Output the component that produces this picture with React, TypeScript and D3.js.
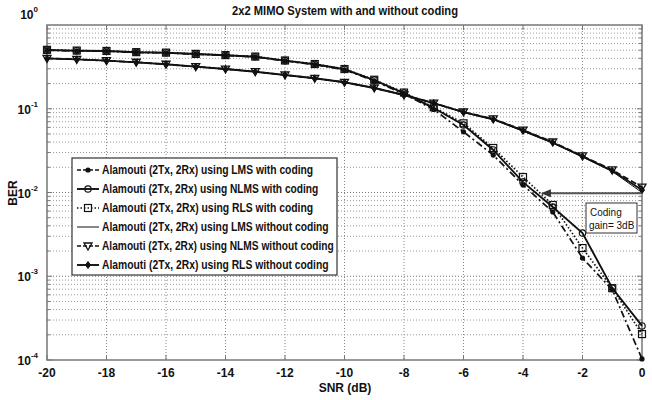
import React, { useEffect, useRef } from 'react';
import * as d3 from 'd3';

// SNR points (dB)
const snr = [-20, -19, -18, -17, -16, -15, -14, -13, -12, -11, -10, -9, -8, -7, -6, -5, -4, -3, -2, -1, 0];

// BER, with coding
const lmsCoded = [0.50, 0.49, 0.487, 0.47, 0.465, 0.448, 0.433, 0.416, 0.372, 0.337, 0.292, 0.215, 0.150, 0.098, 0.053, 0.028, 0.0123, 0.00585, 0.00165, 0.00069, 0.000103];
const nlmsCoded = [0.503, 0.493, 0.489, 0.472, 0.467, 0.45, 0.435, 0.418, 0.375, 0.34, 0.296, 0.22, 0.154, 0.102, 0.064, 0.0322, 0.0133, 0.0067, 0.00328, 0.000724, 0.000255];
const rlsCoded = [0.505, 0.495, 0.49, 0.474, 0.468, 0.452, 0.437, 0.42, 0.377, 0.342, 0.298, 0.222, 0.156, 0.104, 0.067, 0.034, 0.0153, 0.0071, 0.00217, 0.00072, 0.000204];

// BER, without coding
const lmsUncoded = [0.398, 0.388, 0.374, 0.358, 0.339, 0.317, 0.297, 0.276, 0.252, 0.23, 0.206, 0.176, 0.145, 0.116, 0.09, 0.074, 0.054, 0.039, 0.0265, 0.0178, 0.0100];
const nlmsUncoded = [0.40, 0.389, 0.375, 0.359, 0.34, 0.318, 0.298, 0.277, 0.253, 0.231, 0.207, 0.177, 0.146, 0.117, 0.0914, 0.0755, 0.0557, 0.0401, 0.0273, 0.0186, 0.0116];
const rlsUncoded = [0.399, 0.389, 0.375, 0.358, 0.34, 0.318, 0.298, 0.277, 0.253, 0.231, 0.207, 0.177, 0.146, 0.117, 0.091, 0.075, 0.055, 0.0395, 0.027, 0.0182, 0.0107];

const legendLabels = [
  'Alamouti (2Tx, 2Rx) using LMS with coding',
  'Alamouti (2Tx, 2Rx) using NLMS with coding',
  'Alamouti (2Tx, 2Rx) using RLS with coding',
  'Alamouti (2Tx, 2Rx) using LMS without coding',
  'Alamouti (2Tx, 2Rx) using NLMS without coding',
  'Alamouti (2Tx, 2Rx) using RLS without coding',
];

const xTicks = [-20, -18, -16, -14, -12, -10, -8, -6, -4, -2, 0];
const yExponents = [0, -1, -2, -3, -4];

type Marker = 'dot' | 'circle' | 'square' | 'none' | 'tri' | 'diamond';

const seriesList: { values: number[]; dash: string; width: number; marker: Marker }[] = [
  { values: lmsCoded, dash: '7,3,2,3', width: 1.7, marker: 'dot' },
  { values: nlmsCoded, dash: '', width: 1.9, marker: 'circle' },
  { values: rlsCoded, dash: '1.5,2', width: 1.7, marker: 'square' },
  { values: lmsUncoded, dash: '', width: 1, marker: 'none' },
  { values: nlmsUncoded, dash: '6,3', width: 1.7, marker: 'tri' },
  { values: rlsUncoded, dash: '', width: 1.9, marker: 'diamond' },
];

const FONT = 'Liberation Sans, Arial, sans-serif';

const App: React.FC = () => {
  const ref = useRef<SVGSVGElement | null>(null);

  useEffect(() => {
    if (!ref.current) return;
    const svg = d3.select(ref.current);
    svg.selectAll('*').remove();

    const left = 47, right = 642, top = 25, bottom = 360;
    const x = d3.scaleLinear().domain([-20, 0]).range([left, right]);
    const y = d3.scaleLog().domain([1e-4, 1]).range([bottom, top]);

    svg.append('rect').attr('width', 652).attr('height', 400).attr('fill', '#fff');

    // grid
    const grid = svg.append('g');
    xTicks.forEach((t) => {
      if (t === -20 || t === 0) return;
      grid.append('line')
        .attr('x1', x(t)).attr('x2', x(t)).attr('y1', top).attr('y2', bottom)
        .attr('stroke', '#888').attr('stroke-width', 1).attr('stroke-dasharray', '1,2');
    });
    for (let e = -4; e < 0; e++) {
      for (let m = 1; m <= 9; m++) {
        const v = m * Math.pow(10, e);
        if (e === -4 && m === 1) continue;
        grid.append('line')
          .attr('x1', left).attr('x2', right).attr('y1', y(v)).attr('y2', y(v))
          .attr('stroke', m === 1 ? '#777' : '#999').attr('stroke-width', 1).attr('stroke-dasharray', '1,2');
      }
    }

    // frame
    svg.append('rect')
      .attr('x', left).attr('y', top).attr('width', right - left).attr('height', bottom - top)
      .attr('fill', 'none').attr('stroke', '#777').attr('stroke-width', 1.5);

    // ticks
    xTicks.forEach((t) => {
      svg.append('line').attr('x1', x(t)).attr('x2', x(t)).attr('y1', bottom).attr('y2', bottom - 5).attr('stroke', '#777');
      svg.append('line').attr('x1', x(t)).attr('x2', x(t)).attr('y1', top).attr('y2', top + 5).attr('stroke', '#777');
      svg.append('text')
        .attr('x', x(t)).attr('y', 377).attr('text-anchor', 'middle')
        .attr('font-family', FONT).attr('font-weight', 'bold').attr('font-size', 12).attr('fill', '#111')
        .text(t);
    });
    for (let e = -4; e < 0; e++) {
      for (let m = 1; m <= 9; m++) {
        const v = m * Math.pow(10, e);
        const len = m === 1 ? 5 : 3;
        svg.append('line').attr('x1', left).attr('x2', left + len).attr('y1', y(v)).attr('y2', y(v)).attr('stroke', '#777');
        svg.append('line').attr('x1', right).attr('x2', right - len).attr('y1', y(v)).attr('y2', y(v)).attr('stroke', '#777');
      }
    }
    yExponents.forEach((e) => {
      // the top label sits a little above the frame in the original
      const base = e === 0 ? y(1) - 6 : y(Math.pow(10, e)) + 5;
      const t = svg.append('text')
        .attr('x', 38).attr('y', base).attr('text-anchor', 'end')
        .attr('font-family', FONT).attr('font-weight', 'bold').attr('font-size', 12).attr('fill', '#111');
      t.append('tspan').text('10');
      t.append('tspan').attr('dy', -7).attr('font-size', 8).text(e);
    });

    // axis labels and title
    svg.append('text')
      .attr('x', 345).attr('y', 392).attr('text-anchor', 'middle')
      .attr('font-family', FONT).attr('font-weight', 'bold').attr('font-size', 12).attr('fill', '#111')
      .text('SNR (dB)');
    svg.append('text')
      .attr('transform', 'translate(17,193) rotate(-90)').attr('text-anchor', 'middle')
      .attr('font-family', FONT).attr('font-weight', 'bold').attr('font-size', 12).attr('fill', '#111')
      .text('BER');
    svg.append('text')
      .attr('x', 345).attr('y', 15).attr('text-anchor', 'middle')
      .attr('font-family', FONT).attr('font-weight', 'bold').attr('font-size', 12).attr('fill', '#111')
      .attr('textLength', 226).attr('lengthAdjust', 'spacingAndGlyphs')
      .text('2x2 MIMO System with and without coding');

    const drawMarker = (g: d3.Selection<SVGGElement, unknown, null, undefined>, m: Marker, cx: number, cy: number) => {
      if (m === 'dot') {
        g.append('circle').attr('cx', cx).attr('cy', cy).attr('r', 2.6).attr('fill', '#111');
      } else if (m === 'circle') {
        g.append('circle').attr('cx', cx).attr('cy', cy).attr('r', 3.2).attr('fill', 'none').attr('stroke', '#111').attr('stroke-width', 1.2);
      } else if (m === 'square') {
        g.append('rect').attr('x', cx - 3.5).attr('y', cy - 3.5).attr('width', 7).attr('height', 7).attr('fill', 'none').attr('stroke', '#111').attr('stroke-width', 1.2);
      } else if (m === 'tri') {
        g.append('path').attr('d', `M${cx - 4},${cy - 3}L${cx + 4},${cy - 3}L${cx},${cy + 4}Z`).attr('fill', 'none').attr('stroke', '#111').attr('stroke-width', 1.3);
      } else if (m === 'diamond') {
        g.append('path').attr('d', `M${cx},${cy - 3.5}L${cx + 2.5},${cy}L${cx},${cy + 3.5}L${cx - 2.5},${cy}Z`).attr('fill', '#111').attr('stroke', '#111').attr('stroke-width', 1);
      }
    };

    const line = d3.line<number>().x((_, i) => x(snr[i])).y((d) => y(d));
    const plot = svg.append('g');
    seriesList.forEach((s) => {
      plot.append('path')
        .attr('d', line(s.values))
        .attr('fill', 'none').attr('stroke', '#111')
        .attr('stroke-width', s.width)
        .attr('stroke-dasharray', s.dash || null);
      const mg = plot.append('g');
      s.values.forEach((v, i) => drawMarker(mg, s.marker, x(snr[i]), y(v)));
    });

    // annotation arrow
    const ay = y(0.0098), ax = x(-3.4);
    svg.append('line')
      .attr('x1', x(0) - 1).attr('x2', ax + 8).attr('y1', ay).attr('y2', ay)
      .attr('stroke', '#555').attr('stroke-width', 2);
    svg.append('path')
      .attr('d', `M${ax},${ay}L${ax + 10},${ay - 4}L${ax + 10},${ay + 4}Z`)
      .attr('fill', '#333');
    svg.append('rect')
      .attr('x', 586).attr('y', 203).attr('width', 51).attr('height', 30)
      .attr('fill', '#fff').attr('stroke', '#333').attr('stroke-width', 1);
    svg.append('text')
      .attr('x', 590).attr('y', 216)
      .attr('font-family', FONT).attr('font-size', 10).attr('fill', '#111')
      .text('Coding');
    svg.append('text')
      .attr('x', 589).attr('y', 229)
      .attr('font-family', FONT).attr('font-size', 10).attr('fill', '#111')
      .text('gain= 3dB');

    // legend
    const lg = svg.append('g');
    lg.append('rect')
      .attr('x', 72).attr('y', 158).attr('width', 265).attr('height', 117)
      .attr('fill', '#fff').attr('stroke', '#333').attr('stroke-width', 1.2);
    legendLabels.forEach((label, i) => {
      const ly = 170 + i * 19;
      const s = seriesList[i];
      lg.append('line')
        .attr('x1', 77).attr('x2', 99).attr('y1', ly).attr('y2', ly)
        .attr('stroke', '#111').attr('stroke-width', s.width)
        .attr('stroke-dasharray', s.dash ? (s.dash === '1.5,2' ? '1.5,2' : '4,2') : null);
      drawMarker(lg as any, s.marker, 88, ly);
      lg.append('text')
        .attr('x', 102).attr('y', ly + 4)
        .attr('font-family', FONT).attr('font-weight', 'bold').attr('font-size', 12).attr('fill', '#111')
        .attr('textLength', label.length * 5.15).attr('lengthAdjust', 'spacingAndGlyphs')
        .text(label);
    });
  }, []);

  return (
    <svg ref={ref} width={652} height={400} style={{ position: 'absolute', left: 0, top: 0 }} />
  );
};

export default App;
